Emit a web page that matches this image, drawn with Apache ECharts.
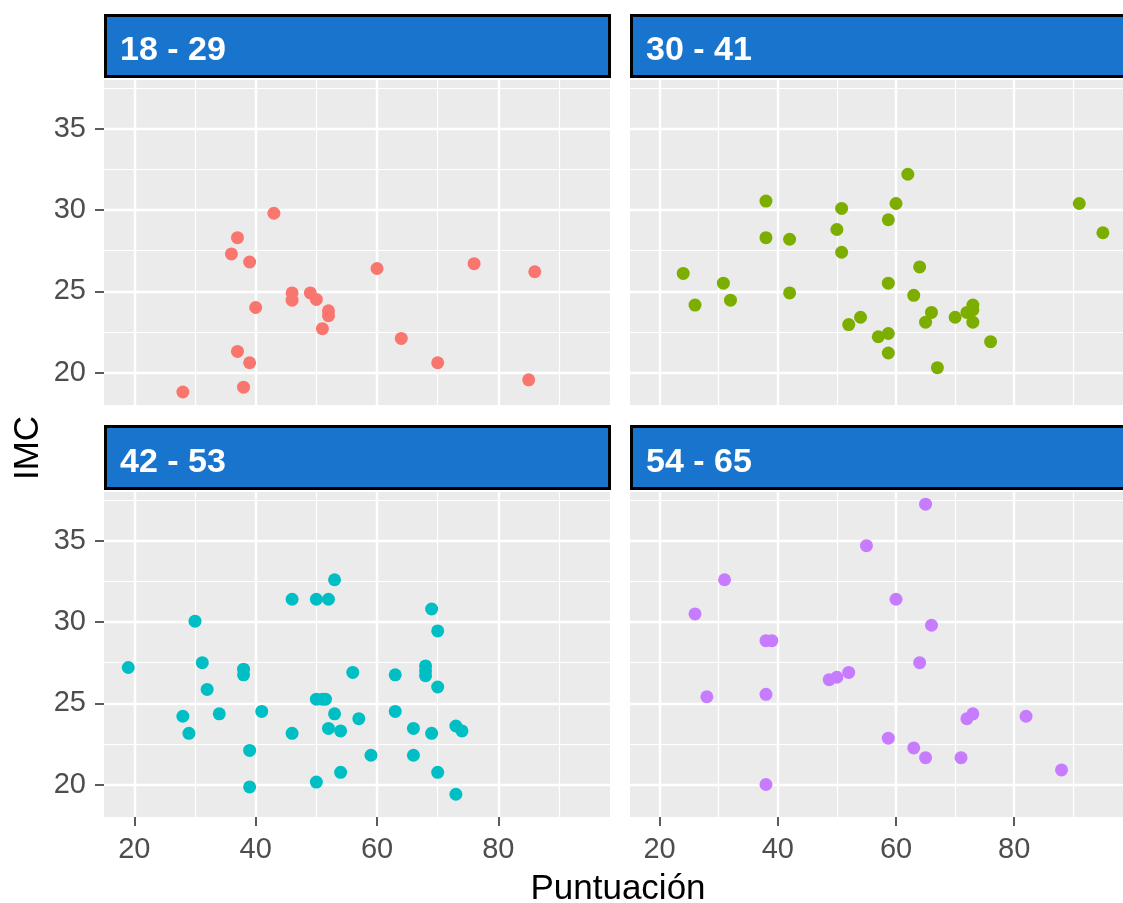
<!DOCTYPE html>
<html>
<head>
<meta charset="utf-8">
<script src="https://cdn.jsdelivr.net/npm/echarts@6/dist/echarts.min.js"></script>
<style>html,body{margin:0;padding:0;background:#ffffff}#c{width:1123px;height:903px}</style>
</head>
<body>
<div id="c"></div>
<script>
// ---- data ----
const panelLabels = ['18 - 29', '30 - 41', '42 - 53', '54 - 65'];
const pointColors = ['#F8766D', '#7CAE00', '#00BFC4', '#C77CFF'];
const xTicks = [20, 40, 60, 80];
const xMinorTicks = [30, 50, 70, 90];
const yTicks = [20, 25, 30, 35];
const yMinorTicks = [22.5, 27.5, 32.5, 37.5];
const xRange = [15, 98.4];
const yRange = [18, 38];
const xTitle = 'Puntuación';
const yTitle = 'IMC';

const edad18_29 = [
  [43, 29.8], [37, 28.3], [36, 27.3], [39, 26.8], [60, 26.4], [76, 26.7], [86, 26.2],
  [46, 24.9], [46, 24.45], [49, 24.9], [50, 24.5], [40, 24.0], [52, 23.8], [52, 23.5],
  [51, 22.7], [64, 22.1], [37, 21.3], [39, 20.6], [70, 20.6], [85, 19.55], [28, 18.8], [38, 19.1]
];
const edad30_41 = [
  [62, 32.2], [38, 30.55], [50.8, 30.1], [60, 30.4], [91, 30.4], [95, 28.6], [58.7, 29.4],
  [50, 28.8], [38, 28.3], [42, 28.2], [50.8, 27.4], [64, 26.5], [24, 26.1], [30.8, 25.5],
  [58.7, 25.5], [26, 24.15], [32, 24.45], [42, 24.9], [63, 24.75], [66, 23.7], [65, 23.1],
  [54, 23.4], [52, 22.95], [70, 23.4], [73, 24.15], [72, 23.7], [73, 23.85], [73, 23.1],
  [57, 22.2], [58.7, 22.4], [58.7, 21.2], [76, 21.9], [67, 20.3]
];
const edad42_53 = [
  [53, 32.6], [46, 31.4], [50, 31.4], [52, 31.4], [69, 30.8], [30, 30.05], [70, 29.45],
  [19, 27.2], [31.2, 27.5], [38, 27.1], [38, 26.75], [56, 26.9], [63, 26.75], [68, 27.3],
  [68, 27.0], [68, 26.7], [70, 26.0], [32, 25.85], [50, 25.25], [51, 25.25], [51.5, 25.25],
  [28, 24.2], [34, 24.35], [41, 24.5], [53, 24.35], [63, 24.5], [57, 24.05], [29, 23.15],
  [46, 23.15], [52, 23.45], [54, 23.3], [66, 23.45], [69, 23.15], [73, 23.6], [74, 23.3],
  [39, 22.1], [59, 21.8], [66, 21.8], [54, 20.75], [70, 20.75], [39, 19.85], [50, 20.15], [73, 19.4]
];
const edad54_65 = [
  [65, 37.25], [55, 34.7], [31, 32.6], [60, 31.4], [26, 30.5], [66, 29.8], [38, 28.85],
  [39, 28.85], [64, 27.5], [52, 26.9], [50, 26.6], [48.7, 26.45], [28, 25.4], [38, 25.55],
  [73, 24.35], [72, 24.05], [82, 24.2], [58.7, 22.85], [63, 22.25], [65, 21.65], [71, 21.65],
  [88, 20.9], [38, 20.0]
];
const groups = [edad18_29, edad30_41, edad42_53, edad54_65];

// ---- layout ----
const FONT = '"Liberation Sans", Arial, sans-serif';
const PW = 506, PH = 325;
const panelPos = [
  { left: 104, top: 80, strip: 14, stripH: 64 },
  { left: 630, top: 80, strip: 14, stripH: 64 },
  { left: 104, top: 492, strip: 425, stripH: 65 },
  { left: 630, top: 492, strip: 425, stripH: 65 }
];

const grids = [], xAxes = [], yAxes = [], series = [], graphics = [];
panelPos.forEach((p, i) => {
  const bottomRow = i >= 2;
  const leftCol = i % 2 === 0;
  grids.push({ left: p.left, top: p.top, width: PW, height: PH, show: true,
    backgroundColor: '#EBEBEB', borderWidth: 0, containLabel: false });
  // minor grid axes
  xAxes.push({ type: 'value', gridIndex: i, min: xRange[0], max: xRange[1],
    minInterval: 10, maxInterval: 10,
    axisLine: { show: false },
    axisTick: { show: false, customValues: xMinorTicks },
    axisLabel: { show: false, customValues: xMinorTicks },
    splitLine: { show: true, lineStyle: { color: '#FFFFFF', width: 1.2 } } });
  yAxes.push({ type: 'value', gridIndex: i, min: yRange[0], max: yRange[1],
    minInterval: 2.5, maxInterval: 2.5,
    axisLine: { show: false },
    axisTick: { show: false, customValues: yMinorTicks },
    axisLabel: { show: false, customValues: yMinorTicks },
    splitLine: { show: true, lineStyle: { color: '#FFFFFF', width: 1.2 } } });
  // major axes
  xAxes.push({ type: 'value', gridIndex: i, min: xRange[0], max: xRange[1], position: 'bottom',
    minInterval: 20, maxInterval: 20,
    axisLine: { show: false },
    axisTick: { show: bottomRow, customValues: xTicks, length: 9, lineStyle: { color: '#333333', width: 1.6 } },
    axisLabel: { show: bottomRow, customValues: xTicks, margin: 18, color: '#4D4D4D', fontSize: 29, fontFamily: FONT },
    splitLine: { show: true, lineStyle: { color: '#FFFFFF', width: 2.4 } } });
  yAxes.push({ type: 'value', gridIndex: i, min: yRange[0], max: yRange[1], position: 'left',
    minInterval: 5, maxInterval: 5,
    axisLine: { show: false },
    axisTick: { show: leftCol, customValues: yTicks, length: 9, lineStyle: { color: '#333333', width: 1.6 } },
    axisLabel: { show: leftCol, customValues: yTicks, margin: 18, color: '#4D4D4D', fontSize: 29, fontFamily: FONT },
    splitLine: { show: true, lineStyle: { color: '#FFFFFF', width: 2.4 } } });
  series.push({ type: 'scatter', name: panelLabels[i], xAxisIndex: 2 * i + 1, yAxisIndex: 2 * i + 1,
    data: groups[i], symbol: 'circle', symbolSize: 13,
    itemStyle: { color: pointColors[i], opacity: 1 }, silent: true });
  // strip
  graphics.push({ type: 'rect', shape: { x: p.left + 1.5, y: p.strip + 1.5, width: PW - 2, height: p.stripH - 3 },
    style: { fill: '#1874CD', stroke: '#000000', lineWidth: 3 }, silent: true });
  graphics.push({ type: 'text', x: p.left + 16, y: p.strip + p.stripH / 2 + 5,
    style: { text: panelLabels[i], fill: '#FFFFFF', fontSize: 34, fontWeight: 'bold', fontFamily: FONT,
      textAlign: 'left', textVerticalAlign: 'middle' }, silent: true });
});
graphics.push({ type: 'text', x: 618, y: 889,
  style: { text: xTitle, fill: '#000000', fontSize: 35, fontFamily: FONT, textAlign: 'center', textVerticalAlign: 'middle' } });
graphics.push({ type: 'text', x: 28, y: 448, rotation: Math.PI / 2,
  style: { text: yTitle, fill: '#000000', fontSize: 35, fontFamily: FONT, textAlign: 'center', textVerticalAlign: 'middle' } });

const chart = echarts.init(document.getElementById('c'), null, { renderer: 'canvas' });
chart.setOption({
  animation: false,
  backgroundColor: '#FFFFFF',
  grid: grids,
  xAxis: xAxes,
  yAxis: yAxes,
  series: series,
  graphic: graphics
});
</script>
</body>
</html>
